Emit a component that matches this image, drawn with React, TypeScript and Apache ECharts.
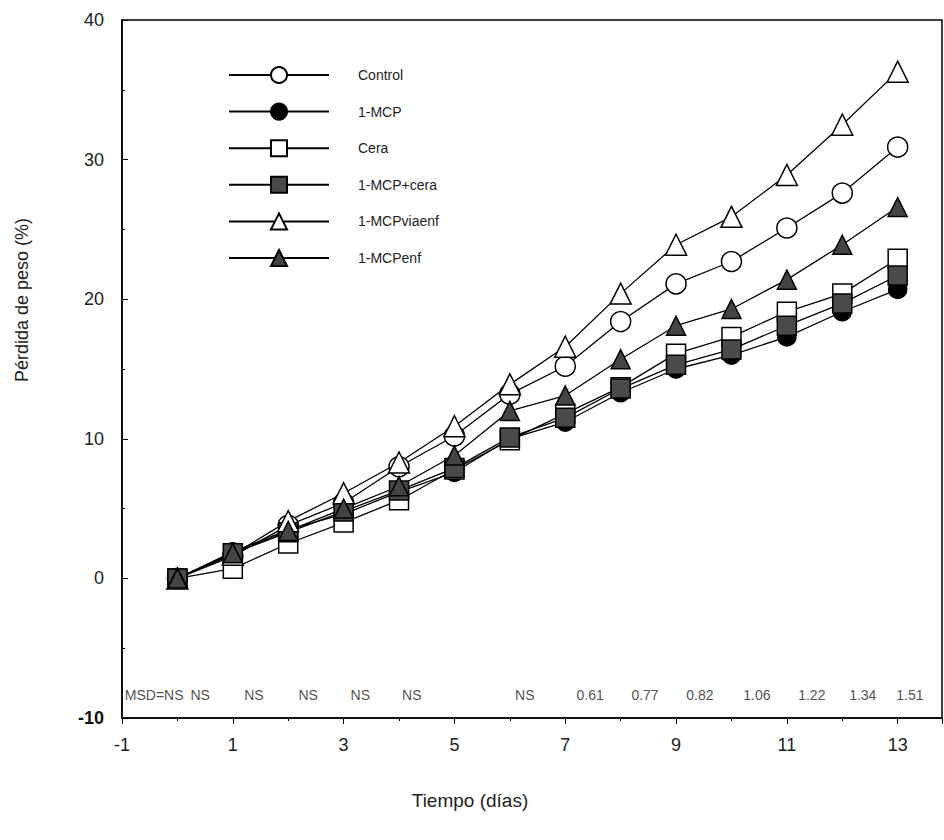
import React, { useEffect, useRef } from "react";
import * as echarts from "echarts";

const days = [0, 1, 2, 3, 4, 5, 6, 7, 8, 9, 10, 11, 12, 13];
const control = [0, 1.6, 3.8, 5.4, 8.0, 10.2, 13.2, 15.2, 18.4, 21.1, 22.7, 25.1, 27.6, 30.9];
const mcp = [0, 1.9, 3.5, 4.6, 6.2, 7.6, 10.0, 11.2, 13.3, 15.0, 16.0, 17.3, 19.1, 20.7];
const cera = [0, 0.7, 2.5, 4.0, 5.6, 7.8, 9.9, 11.8, 13.7, 16.1, 17.3, 19.1, 20.4, 22.9];
const mcpCera = [0, 1.8, 3.3, 4.8, 6.3, 7.9, 10.1, 11.5, 13.6, 15.3, 16.4, 18.1, 19.7, 21.7];
const mcpViaenf = [0, 1.7, 4.1, 6.1, 8.3, 10.9, 13.9, 16.6, 20.4, 23.9, 25.9, 28.9, 32.5, 36.3];
const mcpEnf = [0, 1.8, 3.4, 5.0, 6.6, 8.8, 12.0, 13.1, 15.7, 18.1, 19.3, 21.4, 23.9, 26.6];

const msdTexts = ["MSD=NS", "NS", "NS", "NS", "NS", "NS", "NS", "0.61", "0.77", "0.82", "1.06", "1.22", "1.34", "1.51"];
const msdX = [-0.95, 0.41, 1.38, 2.36, 3.3, 4.23, 6.27, 7.45, 8.44, 9.43, 10.46, 11.45, 12.37, 13.22];
const msdY = -8.36;

const FONT = "'Liberation Sans', Arial, sans-serif";

export default function App() {
  const ref = useRef<HTMLDivElement>(null);
  useEffect(() => {
    if (!ref.current) return;
    const chart = echarts.init(ref.current, null, { renderer: "svg" });
    const mk = (
      name: string,
      vals: number[],
      symbol: string,
      fill: string,
      size: number
    ) => ({
      name,
      type: "line",
      data: days.map((d, i) => [d, vals[i]]),
      symbol,
      symbolSize: size,
      showAllSymbol: true,
      lineStyle: { color: "#000", width: 1.3 },
      itemStyle: { color: fill, borderColor: "#000", borderWidth: 1.5 },
      emphasis: { disabled: true },
      z: 3,
    });
    const names = ["Control", "1-MCP", "Cera", "1-MCP+cera", "1-MCPviaenf", "1-MCPenf"];
    chart.setOption({
      animation: false,
      backgroundColor: "#fff",
      textStyle: { fontFamily: FONT },
      grid: { left: 122, top: 20, right: 2, bottom: 122, show: true, borderColor: "#000", borderWidth: 1.5 },
      legend: {
        data: names,
        orient: "vertical",
        left: 223,
        top: 61,
        itemWidth: 100,
        itemHeight: 20,
        itemGap: 18.6,
        textStyle: { fontFamily: FONT, fontSize: 14, color: "#222", padding: [0, 0, 0, 24] },
        selectedMode: false,
      },
      xAxis: {
        type: "value",
        min: -1,
        max: 13.8,
        interval: 2,
        axisLine: { show: true, onZero: false, lineStyle: { color: "#000", width: 1.5 } },
        axisTick: { show: true, inside: false, length: 6, lineStyle: { color: "#000" } },
        minorTick: { show: true, splitNumber: 2, length: 3, lineStyle: { color: "#000" } },
        axisLabel: { showMaxLabel: false, fontSize: 18, color: "#222", margin: 18, fontFamily: FONT },
        splitLine: { show: false },
      },
      yAxis: {
        type: "value",
        min: -10,
        max: 40,
        interval: 10,
        axisLine: { show: true, onZero: false, lineStyle: { color: "#000", width: 1.5 } },
        axisTick: { show: true, inside: true, length: 6, lineStyle: { color: "#000" } },
        minorTick: { show: true, splitNumber: 2, length: 3, lineStyle: { color: "#000" } },
        axisLabel: {
          fontSize: 18,
          color: "#222",
          margin: 18,
          fontFamily: FONT,
          formatter: (v: number) => (v === -10 ? "{b|-10}" : String(v)),
          rich: { b: { fontWeight: "bold", fontSize: 18, color: "#111", fontFamily: FONT } },
        },
        splitLine: { show: false },
      },
      graphic: [
        {
          type: "text",
          x: 22,
          y: 300,
          rotation: Math.PI / 2,
          style: { text: "Pérdida de peso (%)", font: `18px ${FONT}`, fill: "#222", textAlign: "center", textVerticalAlign: "middle" },
        },
        {
          type: "text",
          x: 470,
          y: 800,
          style: { text: "Tiempo (días)", font: `19px ${FONT}`, fill: "#222", textAlign: "center", textVerticalAlign: "middle" },
        },
      ],
      series: [
        mk(names[0], control, "circle", "#fff", 20),
        mk(names[1], mcp, "circle", "#000", 18),
        mk(names[2], cera, "rect", "#fff", 19),
        mk(names[3], mcpCera, "rect", "#4a4a4a", 19),
        mk(names[4], mcpViaenf, "triangle", "#fff", 21),
        mk(names[5], mcpEnf, "triangle", "#444", 19),
        {
          name: "msd",
          type: "scatter",
          symbolSize: 0,
          silent: true,
          data: msdX.map((x, i) => ({
            value: [x, msdY],
            label: {
              show: true,
              position: "inside",
              formatter: msdTexts[i],
              align: i === 0 ? "left" : "center",
            },
          })),
          label: { fontSize: 14, color: "#222", fontFamily: FONT },
          z: 5,
        },
      ],
    });
    return () => chart.dispose();
  }, []);
  return (
    <div
      ref={ref}
      style={{ position: "fixed", left: 0, top: 0, width: 944, height: 840 }}
    />
  );
}
